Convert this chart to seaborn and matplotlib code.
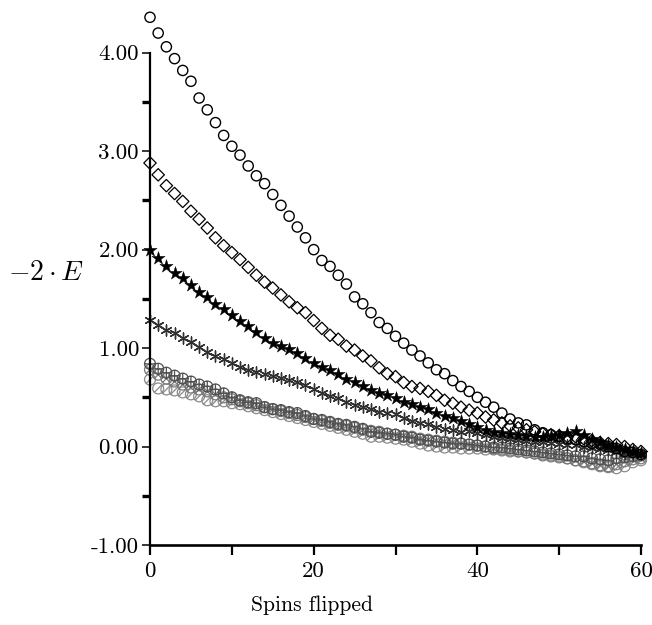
import matplotlib
matplotlib.use("Agg")
import matplotlib.pyplot as plt
from matplotlib.path import Path
import seaborn as sns
import numpy as np

# ---------------- data ----------------
spins = list(range(61))

circles = [4.36, 4.20, 4.06, 3.94, 3.82, 3.71, 3.54, 3.42, 3.29, 3.16,
           3.05, 2.96, 2.85, 2.75, 2.67, 2.56, 2.45, 2.34, 2.23, 2.12,
           2.00, 1.89, 1.83, 1.74, 1.65, 1.52, 1.45, 1.36, 1.26, 1.20,
           1.12, 1.05, 0.98, 0.92, 0.85, 0.78, 0.74, 0.67, 0.61, 0.56,
           0.50, 0.45, 0.40, 0.34, 0.28, 0.24, 0.22, 0.17, 0.14, 0.12,
           0.10, 0.08, 0.07, 0.05, 0.03, 0.02, 0.00, -0.02, -0.05, -0.06,
           -0.08]

diamonds = [2.88, 2.76, 2.65, 2.57, 2.49, 2.39, 2.31, 2.22, 2.12, 2.04,
            1.97, 1.90, 1.82, 1.74, 1.67, 1.61, 1.54, 1.47, 1.41, 1.36,
            1.28, 1.20, 1.13, 1.09, 1.02, 0.98, 0.92, 0.87, 0.80, 0.74,
            0.71, 0.65, 0.61, 0.59, 0.56, 0.52, 0.47, 0.44, 0.40, 0.37,
            0.34, 0.30, 0.27, 0.24, 0.21, 0.19, 0.17, 0.15, 0.13, 0.12,
            0.11, 0.10, 0.10, 0.08, 0.06, 0.04, 0.03, 0.02, 0.00, -0.03,
            -0.05]

stars = [2.00, 1.91, 1.83, 1.76, 1.71, 1.64, 1.57, 1.52, 1.45, 1.40,
         1.34, 1.28, 1.22, 1.16, 1.10, 1.05, 1.02, 0.99, 0.95, 0.90,
         0.85, 0.81, 0.78, 0.74, 0.69, 0.66, 0.61, 0.57, 0.54, 0.52,
         0.49, 0.45, 0.43, 0.40, 0.38, 0.34, 0.31, 0.29, 0.26, 0.23,
         0.20, 0.17, 0.15, 0.14, 0.13, 0.12, 0.11, 0.10, 0.10, 0.11,
         0.12, 0.14, 0.16, 0.12, 0.08, 0.05, 0.02, 0.00, -0.03, -0.05,
         -0.07]

asterisks = [1.29, 1.23, 1.18, 1.15, 1.10, 1.06, 1.01, 0.96, 0.92, 0.89,
             0.85, 0.81, 0.78, 0.76, 0.74, 0.72, 0.70, 0.68, 0.66, 0.63,
             0.58, 0.54, 0.51, 0.49, 0.45, 0.42, 0.40, 0.38, 0.35, 0.34,
             0.33, 0.29, 0.26, 0.24, 0.23, 0.20, 0.18, 0.17, 0.15, 0.16,
             0.14, 0.12, 0.10, 0.09, 0.08, 0.07, 0.06, 0.05, 0.05, 0.04,
             0.03, 0.02, 0.02, 0.00, -0.01, -0.03, -0.04, -0.06, -0.07, -0.08,
             -0.08]

gray_plus = [0.84, 0.79, 0.75, 0.72, 0.69, 0.66, 0.63, 0.61, 0.58, 0.54,
             0.50, 0.47, 0.45, 0.44, 0.40, 0.38, 0.37, 0.35, 0.34, 0.31,
             0.28, 0.27, 0.25, 0.23, 0.22, 0.20, 0.18, 0.15, 0.14, 0.13,
             0.12, 0.10, 0.09, 0.07, 0.06, 0.05, 0.04, 0.03, 0.03, 0.02,
             0.01, 0.00, -0.01, -0.01, -0.02, -0.03, -0.04, -0.05, -0.06, -0.07,
             -0.08, -0.09, -0.10, -0.10, -0.12, -0.13, -0.14, -0.12, -0.11, -0.10,
             -0.09]

gray_cross = [0.78, 0.73, 0.69, 0.66, 0.63, 0.60, 0.58, 0.56, 0.53, 0.50,
              0.48, 0.46, 0.44, 0.42, 0.40, 0.38, 0.36, 0.34, 0.32, 0.30,
              0.28, 0.26, 0.24, 0.22, 0.21, 0.19, 0.17, 0.16, 0.15, 0.13,
              0.12, 0.11, 0.10, 0.08, 0.07, 0.06, 0.05, 0.04, 0.03, 0.02,
              0.01, 0.00, -0.02, -0.03, -0.04, -0.05, -0.06, -0.07, -0.09, -0.10,
              -0.11, -0.12, -0.14, -0.15, -0.17, -0.19, -0.20, -0.18, -0.15, -0.13,
              -0.12]

gray_slash = [0.68, 0.59, 0.58, 0.57, 0.55, 0.53, 0.51, 0.47, 0.46, 0.46,
              0.44, 0.43, 0.41, 0.39, 0.37, 0.35, 0.33, 0.31, 0.29, 0.27,
              0.25, 0.23, 0.21, 0.19, 0.17, 0.15, 0.13, 0.10, 0.10, 0.09,
              0.08, 0.07, 0.05, 0.03, 0.01, 0.00, -0.01, -0.01, -0.02, -0.02,
              -0.02, -0.03, -0.03, -0.04, -0.05, -0.05, -0.06, -0.07, -0.08, -0.09,
              -0.10, -0.12, -0.14, -0.16, -0.18, -0.20, -0.21, -0.22, -0.20, -0.16,
              -0.14]

y_ticks = [-1, 0, 1, 2, 3, 4]
y_minor = [-0.5, 0.5, 1.5, 2.5, 3.5]
x_ticks = [0, 20, 40, 60]
x_minor = [10, 30, 50]

# ---------------- style ----------------
sns.set_theme(style="white")
plt.rcParams["font.family"] = ["cmr10", "DejaVu Serif"]
plt.rcParams["mathtext.fontset"] = "cm"
plt.rcParams["axes.unicode_minus"] = False
plt.rcParams["axes.formatter.use_mathtext"] = True

fig = plt.figure(figsize=(6.52, 6.25), dpi=100)
ax = fig.add_axes([150 / 652, 1 - 545 / 625, 491 / 652, 541.5 / 625])


def circle_with(lines):
    circ = Path.unit_circle()
    parts = [circ]
    for (a, b) in lines:
        parts.append(Path([a, b], [Path.MOVETO, Path.LINETO]))
    return Path.make_compound_path(*parts)


d = 0.7071
m_plus = circle_with([((-1, 0), (1, 0)), ((0, -1), (0, 1))])
m_cross = circle_with([((-d, -d), (d, d)), ((-d, d), (d, -d))])
m_slash = circle_with([((-d, -d), (d, d))])

common = dict(ax=ax, clip_on=False, legend=False)

sns.scatterplot(x=spins, y=gray_slash, marker=m_slash, s=62, facecolors="none",
                edgecolor="#8a8a8a", linewidth=0.9, **common)
sns.scatterplot(x=spins, y=gray_cross, marker=m_cross, s=62, facecolors="none",
                edgecolor="#7a7a7a", linewidth=0.9, **common)
sns.scatterplot(x=spins, y=gray_plus, marker=m_plus, s=62, facecolors="none",
                edgecolor="#505050", linewidth=0.9, **common)
sns.scatterplot(x=spins, y=asterisks, marker=(6, 2, 0), s=62, color="#303030",
                edgecolor="#303030", linewidth=1.0, **common)
sns.scatterplot(x=spins, y=stars, marker="*", s=100, color="black",
                edgecolor="black", linewidth=0.3, **common)
sns.scatterplot(x=spins, y=diamonds, marker="D", s=40, facecolors="none",
                edgecolor="black", linewidth=0.9, **common)
sns.scatterplot(x=spins, y=circles, marker="o", s=54, facecolors="none",
                edgecolor="black", linewidth=1.0, **common)

# ---------------- axes ----------------
ax.set_xlim(0, 60)
ax.set_ylim(-1, 4.5)
for side in ["top", "right"]:
    ax.spines[side].set_visible(False)
ax.spines["left"].set_bounds(-1, 4)
ax.spines["bottom"].set_bounds(0, 60)
ax.spines["left"].set_linewidth(1.6)
ax.spines["bottom"].set_linewidth(1.9)
ax.spines["left"].set_color("black")
ax.spines["bottom"].set_color("black")

ax.set_yticks(y_ticks)
ax.set_yticklabels([f"{v:.2f}" for v in y_ticks])
ax.set_yticks(y_minor, minor=True)
ax.set_xticks(x_ticks)
ax.set_xticklabels([str(v) for v in x_ticks])
ax.set_xticks(x_minor, minor=True)

ax.tick_params(axis="y", which="major", direction="out", length=6, width=1.1,
               pad=2, labelsize=16.5, colors="black")
ax.tick_params(axis="y", which="minor", direction="out", length=6, width=2.4,
               colors="black")
ax.tick_params(axis="x", which="both", direction="out", length=7, width=1.6,
               pad=5, labelsize=16.5, colors="black")
ax.tick_params(left=True, bottom=True, which="both")

ax.set_xlabel("Spins flipped", fontsize=15.5, color="black")
ax.xaxis.label.set_va("center")
ax.xaxis.set_label_coords((312 - 150) / 491, (545 - 605) / 541.5)

ax.set_ylabel(r"$-2\cdot E$", fontsize=20, rotation=0, color="black")
ax.yaxis.label.set_ha("center")
ax.yaxis.label.set_va("center")
ax.yaxis.set_label_coords((46 - 150) / 491, (545 - 273) / 541.5)

ax.grid(False)
fig.savefig("out.png", dpi=100, facecolor="white")
